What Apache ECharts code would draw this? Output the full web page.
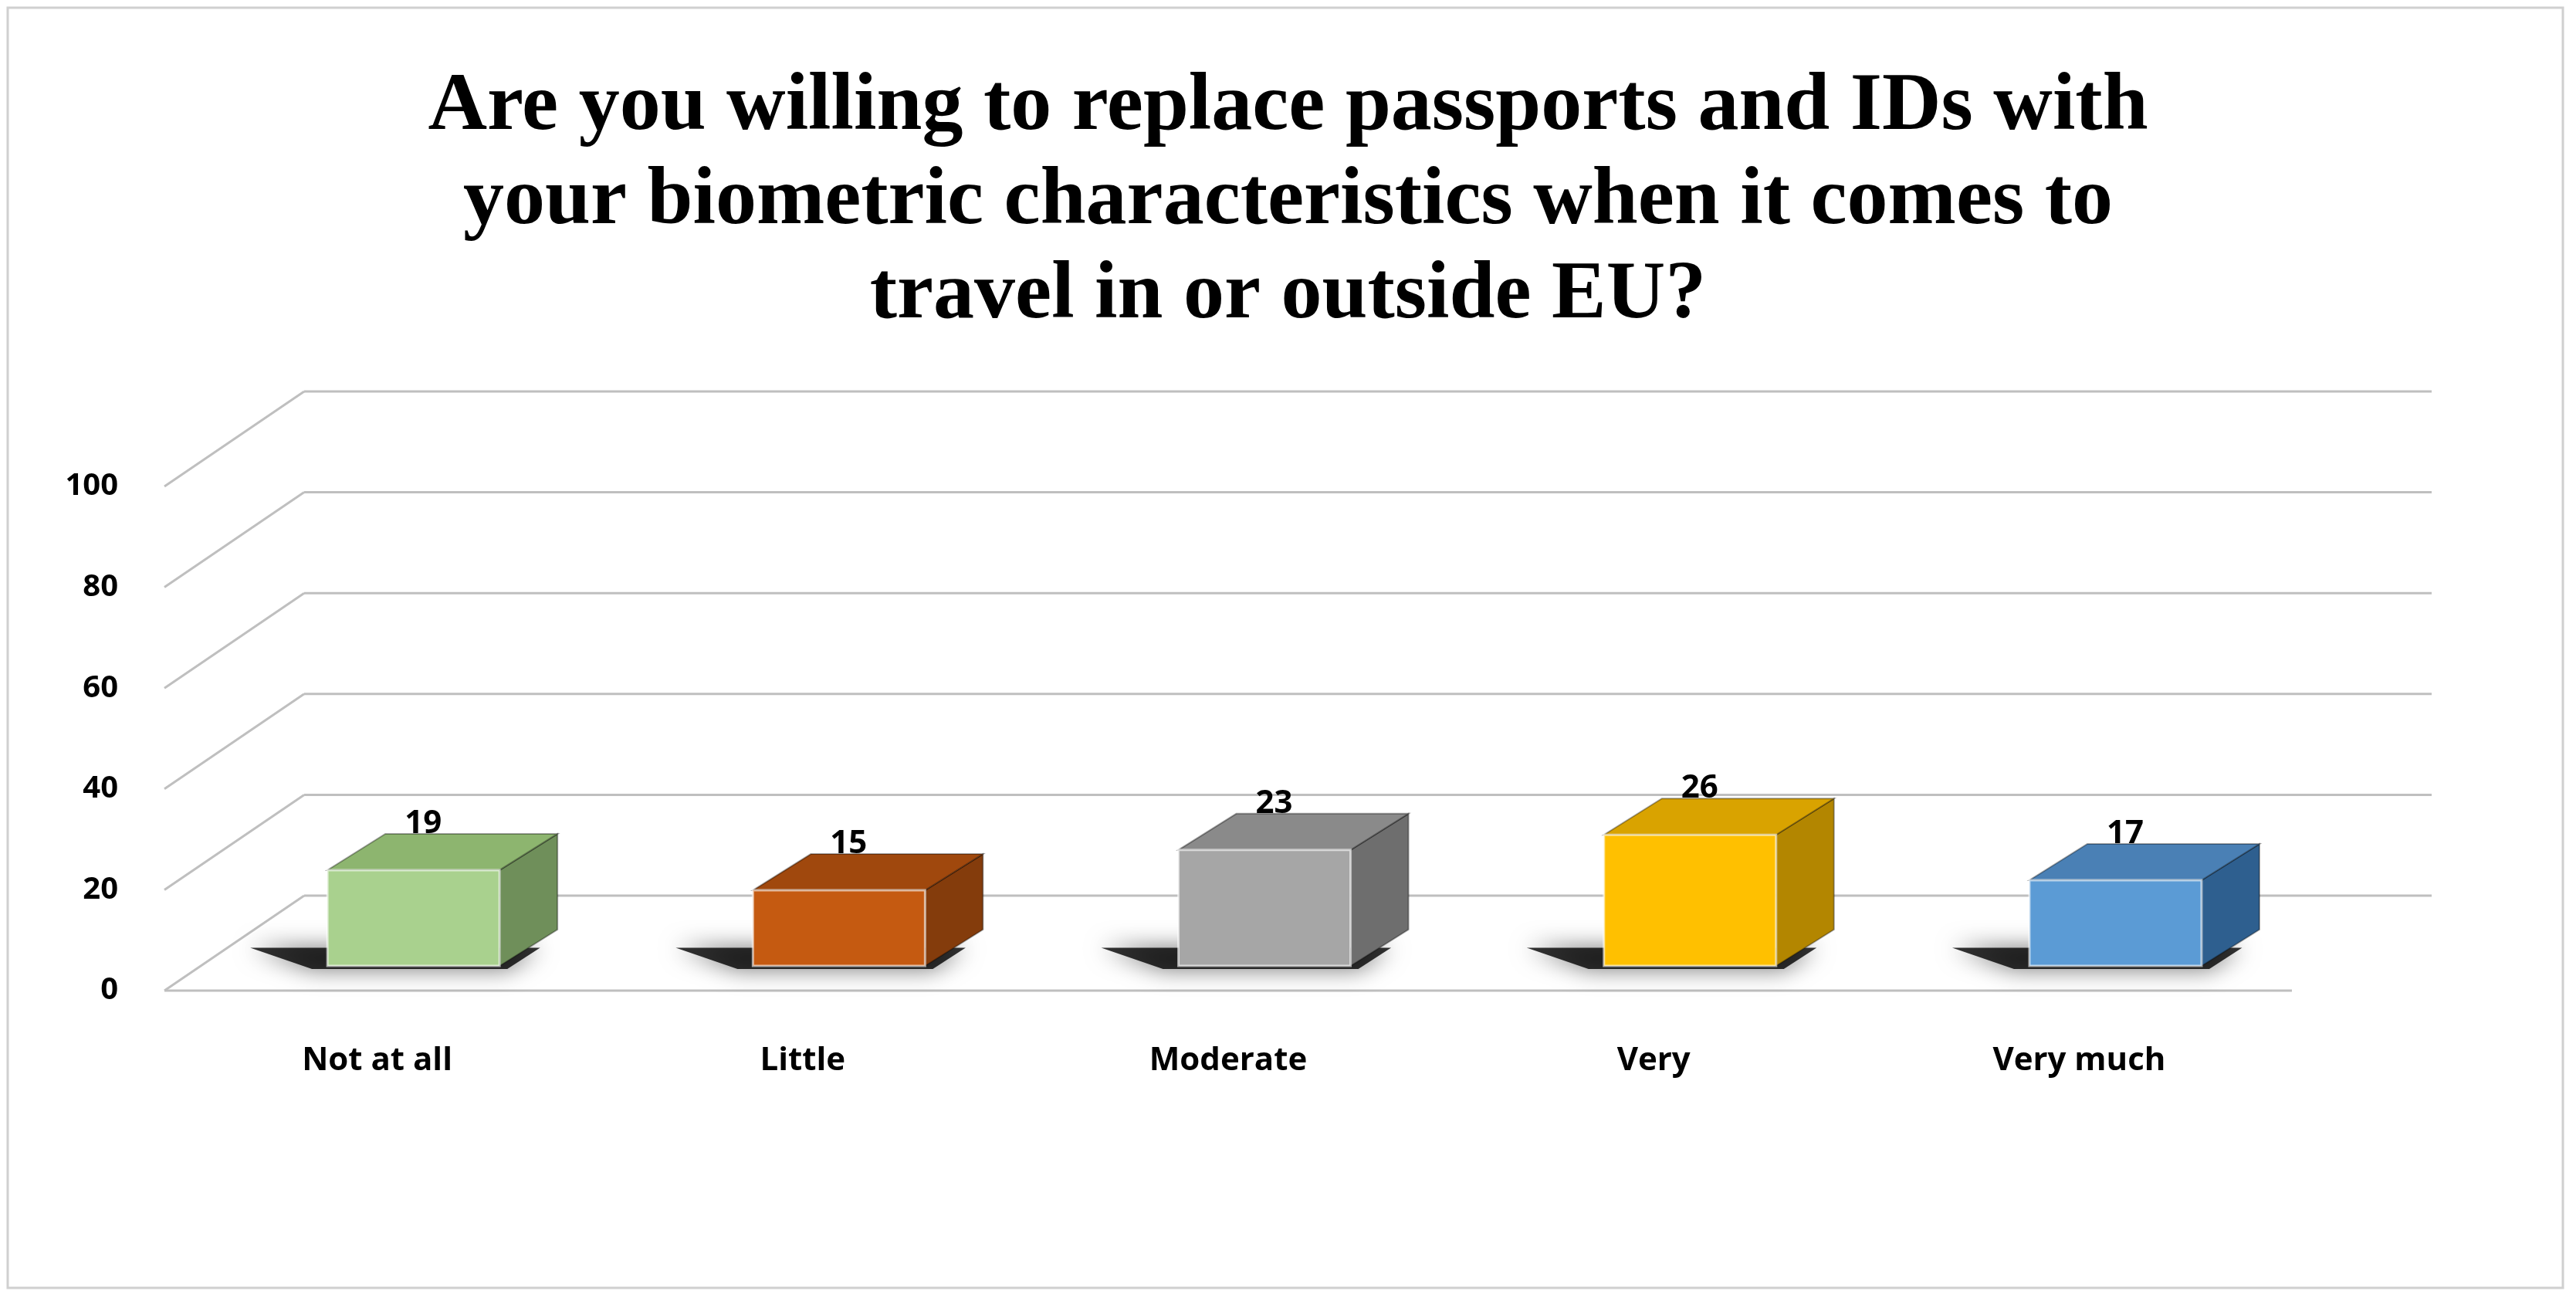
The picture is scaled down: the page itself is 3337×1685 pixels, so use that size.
<!DOCTYPE html>
<html>
<head>
<meta charset="utf-8">
<script src="https://cdn.jsdelivr.net/npm/echarts@6/dist/echarts.min.js"></script>
<style>html,body{margin:0;padding:0;background:#fff}#main{width:3337px;height:1685px}</style>
</head>
<body>
<div id="main"></div>
<script>
let categories = ['Not at all', 'Little', 'Moderate', 'Very', 'Very much'];
let values = [19, 15, 23, 26, 17];
let yTicks = [0, 20, 40, 60, 80, 100];
let frontColors = ['#a9d18e', '#c55a11', '#a6a6a6', '#ffc000', '#5b9bd5'];
let sideColors = ['#6f8f5a', '#843c0c', '#6e6e6e', '#b38600', '#2e5f8f'];
let topColors = ['#8db56f', '#a0480d', '#8a8a8a', '#d9a300', '#4a80b5'];

let chart = echarts.init(document.getElementById('main'), null, {renderer: 'canvas'});

// depth of the 3D floor in pixels, and bar box depth
const DX = 181, DY = -123;
const BDX = 75, BDY = -47;
const BAR_W = 223;
const POS = 0.26;

let option = {
    animation: false,
    title: {
        text: 'Are you willing to replace passports and IDs with\nyour biometric characteristics when it comes to\ntravel in or outside EU?',
        left: 'center',
        top: 74,
        textStyle: {
            fontFamily: 'Liberation Serif',
            fontWeight: 'bold',
            fontSize: 106,
            lineHeight: 122,
            color: '#000'
        }
    },
    graphic: [{
        type: 'rect',
        shape: {x: 10, y: 10, width: 3310, height: 1658},
        style: {fill: 'none', stroke: '#d0d0d0', lineWidth: 3}
    }],
    grid: {left: 213, top: 630, width: 2756, height: 653},
    xAxis: [{
        type: 'category',
        data: categories,
        axisLine: {show: false},
        axisTick: {show: false},
        axisLabel: {
            margin: 70,
            fontFamily: 'Open Sans',
            fontWeight: 'bold',
            fontSize: 42,
            color: '#000'
        }
    }, {
        type: 'value', min: 0, max: 1, show: false
    }],
    yAxis: {
        type: 'value',
        min: 0,
        max: 100,
        interval: 20,
        splitLine: {show: false},
        axisLine: {show: false},
        axisTick: {show: false},
        axisLabel: {
            margin: 60,
            fontFamily: 'Open Sans',
            fontWeight: 'bold',
            fontSize: 40,
            color: '#000'
        }
    },
    series: [{
        type: 'custom',
        xAxisIndex: 1,
        data: yTicks,
        silent: true,
        z: 1,
        renderItem: (params, api) => {
            let v = api.value(0);
            let a = api.coord([0, v]);
            let b = api.coord([1, v]);
            let line = {stroke: '#bfbfbf', lineWidth: 3};
            let children = [
                {type: 'line', shape: {x1: a[0], y1: a[1], x2: a[0] + DX, y2: a[1] + DY}, style: line},
                {type: 'line', shape: {x1: a[0] + DX, y1: a[1] + DY, x2: b[0] + DX, y2: b[1] + DY}, style: line}
            ];
            if (v === 0) {
                children.push({type: 'line', shape: {x1: a[0], y1: a[1], x2: b[0], y2: b[1]}, style: line});
            }
            return {type: 'group', children: children};
        }
    }, {
        type: 'custom',
        data: values.map((v, i) => [i, v]),
        z: 2,
        renderItem: (params, api) => {
            let i = api.value(0);
            let base = api.coord([i, 0]);
            let top = api.coord([i, api.value(1)]);
            let ox = DX * POS, oy = DY * POS;
            let x0 = base[0] + ox - BAR_W / 2, x1 = x0 + BAR_W;
            let yb = base[1] + oy, yt = top[1] + oy;
            return {
                type: 'group',
                children: [
                    {type: 'polygon', shape: {points: [[x0 - 20, yb + 4], [x1 + 10, yb + 4], [x1 + BDX * 0.7, yb + BDY * 0.5], [x0 - 100, yb + BDY * 0.5]]},
                        style: {fill: 'rgba(0,0,0,0.8)', shadowBlur: 30, shadowColor: 'rgba(0,0,0,0.7)'}},
                    {type: 'polygon', shape: {points: [[x1, yb], [x1 + BDX, yb + BDY], [x1 + BDX, yt + BDY], [x1, yt]]},
                        style: {fill: sideColors[i], stroke: 'rgba(0,0,0,0.35)', lineWidth: 2}},
                    {type: 'polygon', shape: {points: [[x0, yt], [x1, yt], [x1 + BDX, yt + BDY], [x0 + BDX, yt + BDY]]},
                        style: {fill: topColors[i], stroke: 'rgba(0,0,0,0.35)', lineWidth: 2}},
                    {type: 'rect', shape: {x: x0, y: yt, width: BAR_W, height: yb - yt},
                        style: {fill: frontColors[i], stroke: 'rgba(255,255,255,0.6)', lineWidth: 3}},
                    {type: 'text', style: {x: x0 + BAR_W / 2 + BDX / 2 - 25, y: yt + BDY + 8, text: String(api.value(1)),
                        align: 'center', verticalAlign: 'bottom', fontFamily: 'Open Sans', fontWeight: 'bold', fontSize: 42, fill: '#000'}}
                ]
            };
        }
    }]
};

chart.setOption(option);
window.addEventListener('resize', chart.resize);
</script>
</body>
</html>
